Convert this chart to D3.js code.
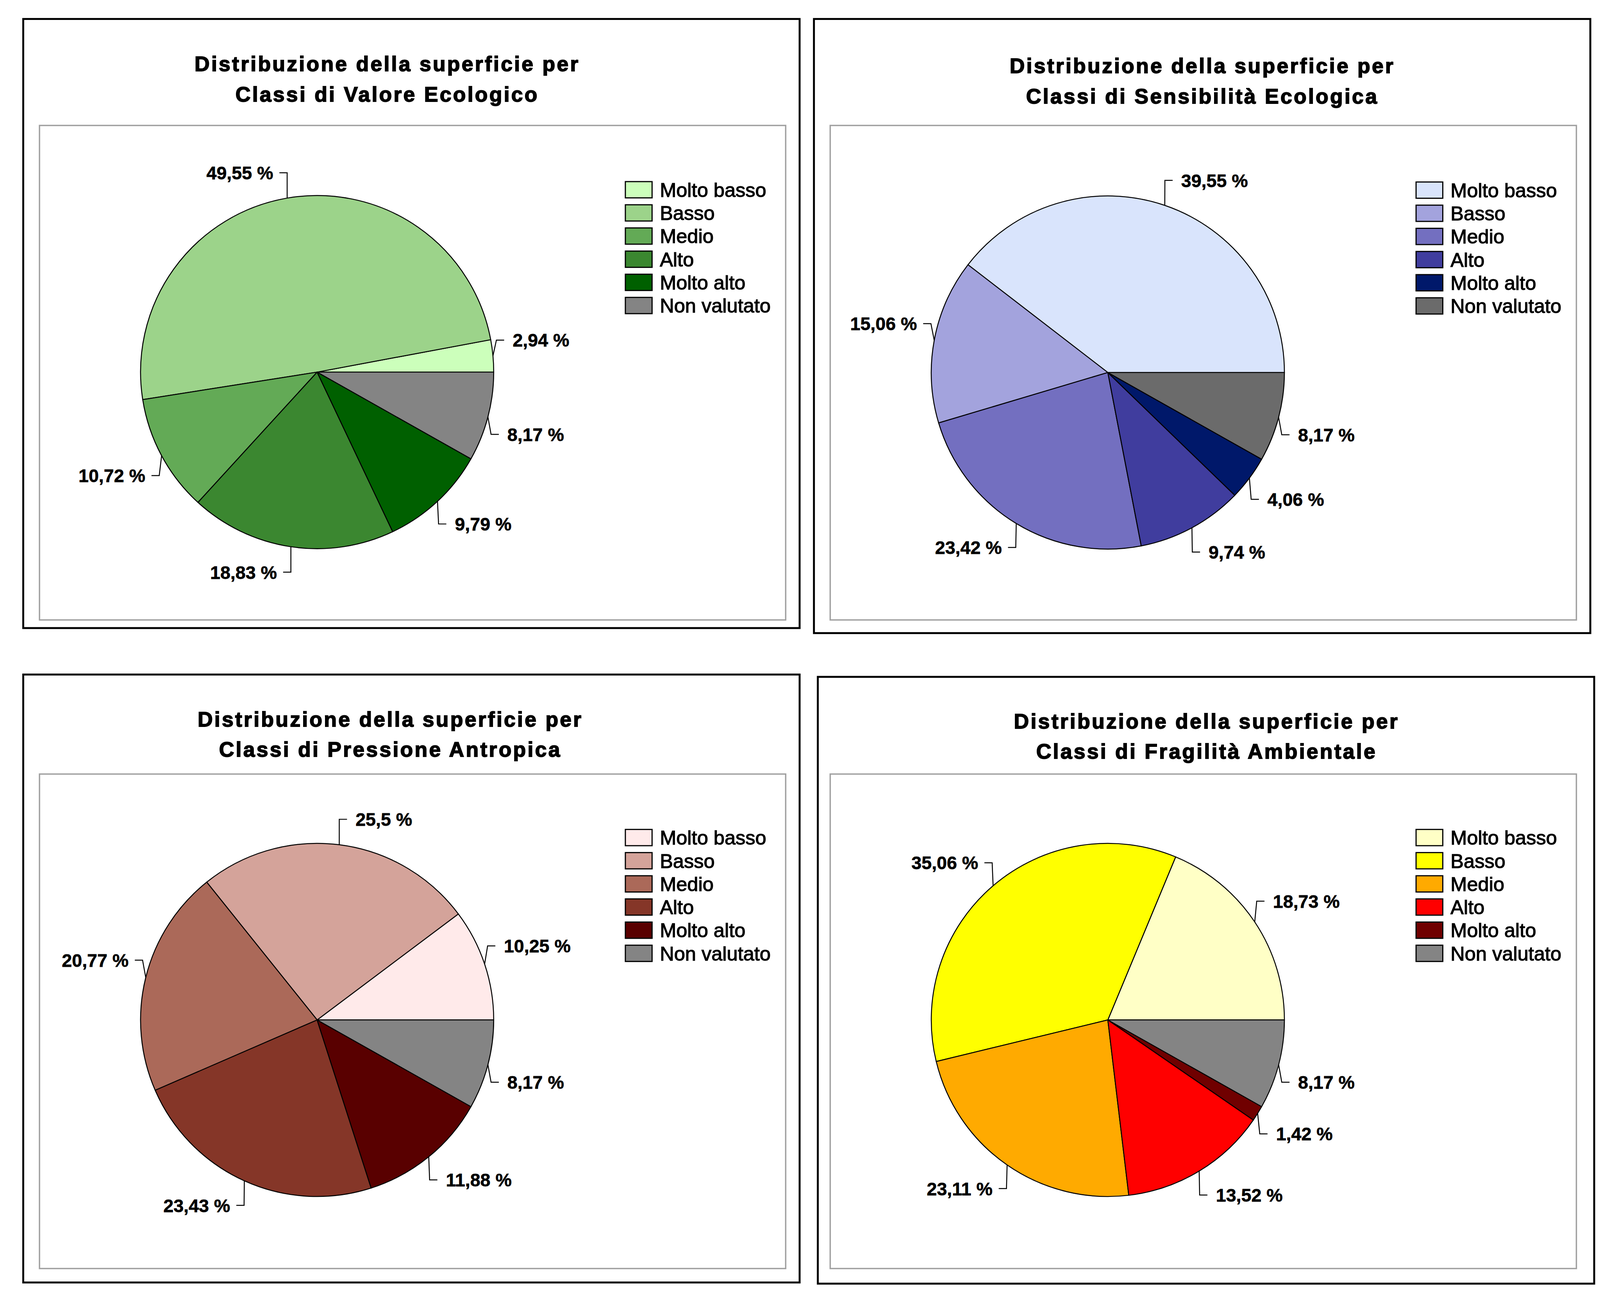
<!DOCTYPE html>
<html>
<head>
<meta charset="utf-8">
<script src="https://cdn.jsdelivr.net/npm/d3@7"></script>
<style>
  html, body { margin: 0; padding: 0; background: #fff; overflow: hidden; }
  svg { display: block; width: 100vw; height: 100vh; }
</style>
</head>
<body>
<svg id="chart"></svg>
<script>
// categories shared by the four charts
const categories = ["Molto basso", "Basso", "Medio", "Alto", "Molto alto", "Non valutato"];

// percentages
const valoreEcologico = [2.94, 49.55, 10.72, 18.83, 9.79, 8.17];
const sensibilitaEcologica = [39.55, 15.06, 23.42, 9.74, 4.06, 8.17];
const pressioneAntropica = [10.25, 25.5, 20.77, 23.43, 11.88, 8.17];
const fragilitaAmbientale = [18.73, 35.06, 23.11, 13.52, 1.42, 8.17];

const coloriValore = ["#ccffbb", "#9cd38a", "#63aa56", "#3b8730", "#006000", "#848484"];
const coloriSensibilita = ["#d9e4fc", "#a3a3dd", "#736fc0", "#403d9e", "#00186a", "#6b6b6b"];
const coloriPressione = ["#ffeaea", "#d4a39a", "#ab6959", "#853628", "#590000", "#848484"];
const coloriFragilita = ["#ffffc6", "#ffff00", "#ffaa00", "#ff0000", "#700000", "#848484"];

const titoli = [
    ["Distribuzione della superficie per", "Classi di Valore Ecologico"],
    ["Distribuzione della superficie per", "Classi di Sensibilità Ecologica"],
    ["Distribuzione della superficie per", "Classi di Pressione Antropica"],
    ["Distribuzione della superficie per", "Classi di Fragilità Ambientale"]
];

const series = [valoreEcologico, sensibilitaEcologica, pressioneAntropica, fragilitaAmbientale];
const palettes = [coloriValore, coloriSensibilita, coloriPressione, coloriFragilita];

// layout of each panel (outer frame, plot frame, pie centre, title position)
const layout = [
    { outer: [60, 49, 2065, 1622], plot: [102, 324, 2029, 1601], cx: 819, cy: 961, tx: 1000, ty: 184 },
    { outer: [2102, 49, 4107, 1635], plot: [2144, 324, 4071, 1601], cx: 2861, cy: 962, tx: 3105, ty: 189 },
    { outer: [60, 1742, 2065, 3312], plot: [102, 1999, 2029, 3276], cx: 819, cy: 2634, tx: 1008, ty: 1876 },
    { outer: [2112, 1748, 4117, 3315], plot: [2144, 1999, 4071, 3276], cx: 2861, cy: 2634, tx: 3116, ty: 1881 }
];

const width = 4132, height = 3328;
const radius = 456;

const svg = d3.select("#chart")
    .attr("viewBox", [0, 0, width, height])
    .attr("preserveAspectRatio", "xMinYMin meet");

const pie = d3.pie()
    .sort(null)
    .value(d => d)
    .startAngle(Math.PI / 2)
    .endAngle(Math.PI / 2 - 2 * Math.PI); // counter-clockwise from 3 o'clock

const arc = d3.arc().innerRadius(0).outerRadius(radius);

const fmt = v => String(v).replace(".", ",") + " %";

layout.forEach((p, i) => {
    const g = svg.append("g");

    g.append("rect")
        .attr("x", p.outer[0]).attr("y", p.outer[1])
        .attr("width", p.outer[2] - p.outer[0]).attr("height", p.outer[3] - p.outer[1])
        .attr("fill", "#fff").attr("stroke", "#000").attr("stroke-width", 5);

    g.append("rect")
        .attr("x", p.plot[0]).attr("y", p.plot[1])
        .attr("width", p.plot[2] - p.plot[0]).attr("height", p.plot[3] - p.plot[1])
        .attr("fill", "none").attr("stroke", "#a0a0a0").attr("stroke-width", 3.5);

    g.selectAll(".title")
        .data(titoli[i])
        .enter().append("text")
        .attr("x", p.tx)
        .attr("y", (d, k) => p.ty + k * 78)
        .attr("text-anchor", "middle")
        .attr("font-family", "Liberation Sans, Arial, sans-serif")
        .attr("font-weight", "bold")
        .attr("font-size", 54)
        .attr("letter-spacing", 4.3)
        .attr("stroke", "#000")
        .attr("stroke-width", 2)
        .text(d => d);

    const color = d3.scaleOrdinal().domain(categories).range(palettes[i]);
    const arcs = pie(series[i]);

    const pieG = g.append("g").attr("transform", `translate(${p.cx},${p.cy})`);

    pieG.selectAll("path")
        .data(arcs)
        .enter().append("path")
        .attr("d", arc)
        .attr("fill", (d, k) => color(categories[k]))
        .attr("stroke", "#000")
        .attr("stroke-width", 2.5)
        .attr("stroke-linejoin", "round");

    // leader lines and labels
    arcs.forEach(d => {
        const m = (d.startAngle + d.endAngle) / 2;
        const c = Math.sin(m), s = -Math.cos(m);
        const x0 = radius * c, y0 = radius * s;
        const x1 = x0 + 9 * c * c * c;
        const y1 = y0 + Math.sign(s) * (38 + 28 * Math.abs(s));
        const h = c >= 0 ? 1 : -1;
        const x2 = x1 + 20 * h;

        pieG.append("polyline")
            .attr("points", [[x0, y0], [x1, y1], [x2, y1]].map(q => q.join(",")).join(" "))
            .attr("fill", "none")
            .attr("stroke", "#000")
            .attr("stroke-width", 2.5);

        pieG.append("text")
            .attr("x", x2 + (h > 0 ? 22 : -16))
            .attr("y", y1)
            .attr("dy", "0.36em")
            .attr("text-anchor", h > 0 ? "start" : "end")
            .attr("font-family", "Liberation Sans, Arial, sans-serif")
            .attr("font-weight", "bold")
            .attr("font-size", 47)
            .attr("stroke", "#000")
            .attr("stroke-width", 0.8)
            .text(fmt(d.data));
    });

    // legend
    const legend = g.append("g")
        .attr("transform", `translate(${p.cx + 796},${p.cy - 471})`);

    const item = legend.selectAll(".item")
        .data(categories)
        .enter().append("g")
        .attr("transform", (d, k) => `translate(0,${k * 59.8})`);

    item.append("rect")
        .attr("x", 0).attr("y", -21)
        .attr("width", 69).attr("height", 42)
        .attr("fill", d => color(d))
        .attr("stroke", "#000").attr("stroke-width", 3);

    item.append("text")
        .attr("x", 89)
        .attr("y", 0)
        .attr("dy", "0.36em")
        .attr("font-family", "Liberation Sans, Arial, sans-serif")
        .attr("font-size", 51)
        .attr("stroke", "#000")
        .attr("stroke-width", 1.4)
        .text(d => d);
});
</script>
</body>
</html>
